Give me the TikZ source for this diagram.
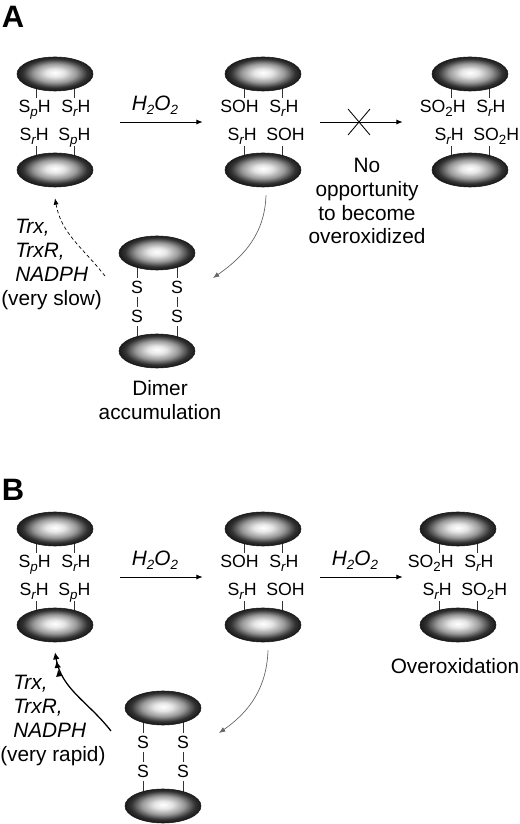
\documentclass[tikz,border=0pt]{standalone}
\usepackage{fontspec}
\setmainfont{Liberation Sans}
\usetikzlibrary{shapes.geometric,shapes.misc,arrows.meta,calc}

\newcommand\lowsub[1]{\raisebox{-0.35ex}{\fontsize{9.5}{10}\selectfont #1}}
\newcommand\SpH{S\lowsub{\itshape p}H}
\newcommand\SrH{S\lowsub{\itshape r}H}
\newcommand\SOH{SOH}
\newcommand\SOtwoH{SO\lowsub{2}H}
\newcommand\peroxide{\textit{H\lowsub{2}O\lowsub{2}}}

\pgfdeclareradialshading{blobshade}{\pgfpoint{0bp}{2bp}}{color(0bp)=(white); color(6bp)=(white!90!black); color(14bp)=(black!40); color(21bp)=(black!80); color(25bp)=(black!90); color(50bp)=(black!90)}

\begin{document}
\begin{tikzpicture}[x=0.025cm,y=0.025cm,>=Latex]
%===DEF. COMPONENTS====
\tikzset{blob/.style={ellipse, draw=black!90, thin, shading=blobshade, minimum width=1.9cm, minimum height=0.85cm, inner sep=0}}
\tikzset{atom/.style={inner sep=0, font=\fontsize{12.6}{14}\selectfont}}
\tikzset{lbl/.style={inner sep=0, font=\fontsize{14.8}{17}\selectfont}}
\tikzset{panel/.style={inner sep=0, font=\fontsize{22}{24}\selectfont\bfseries}}
\tikzset{stem/.style={black!80, line width=0.5pt}}
\tikzset{rxn/.style={-{Latex[length=4.5pt,width=3.6pt]}, line width=0.6pt}}
\tikzset{feed/.style={-{Latex[length=4.5pt,width=3.6pt]}, black!60, line width=0.5pt}}
\tikzset{slow/.style={-{Latex[length=4.5pt,width=3.6pt]}, dash pattern=on 2.5pt off 1.8pt, line width=0.5pt}}
\tikzset{fast/.style={-{Latex[length=5pt,width=4.8pt,sep=1.2pt] Latex[length=5pt,width=4.8pt,sep=1.2pt] Latex[length=5pt,width=4.8pt]}, line width=0.9pt}}

 \def\pair(#1,#2,#3,#4,#5,#6,#7){
 \begin{scope}[shift={(#1,#2)}]
 \node[inner sep=0, minimum width=1.9cm, minimum height=2.4cm] (#3) at (0,0) {};
 \draw[stem] (-19,38) -- (-19,24); \draw[stem] (19,38) -- (19,24);
 \draw[stem] (-19,-38) -- (-19,-24); \draw[stem] (19,-38) -- (19,-24);
 \node[blob] (#3t) at (0,48) {};
 \node[blob] (#3b) at (0,-48) {};
 \node[atom, anchor=base east] (#3tl) at (-4,9) {#4};
 \node[atom, anchor=base west] (#3tr) at (6,9) {#5};
 \node[atom, anchor=base east] (#3bl) at (-6,-19) {#6};
 \node[atom, anchor=base west] (#3br) at (3,-19) {#7};
 \end{scope}
}

 \def\dimer(#1,#2,#3){
 \begin{scope}[shift={(#1,#2)}]
 \node[atom, inner sep=2.4pt] (#3s1) at (-20,14.5) {S};
 \node[atom, inner sep=2.4pt] (#3s2) at (-20,-14.5) {S};
 \node[atom, inner sep=2.4pt] (#3s3) at (20,14.5) {S};
 \node[atom, inner sep=2.4pt] (#3s4) at (20,-14.5) {S};
 \draw[stem] (-20,40) -- (#3s1) -- (#3s2) -- (-20,-40);
 \draw[stem] (20,40) -- (#3s3) -- (#3s4) -- (20,-40);
 \node[blob] (#3t) at (0,49) {};
 \node[blob] (#3b) at (0,-49) {};
 \coordinate (#3in) at (56,24);
 \coordinate (#3out) at (-52,26);
 \end{scope}
}
\path[use as bounding box] (0,0) rectangle (520,824);
%===panel A===
\node[panel] (lblA) at (13,807) {A};
\pair(55,702,a1,\SpH,\SrH,\SrH,\SpH)
\pair(263,702,a2,\SOH,\SrH,\SrH,\SOH)
\pair(470,702,a3,\SOtwoH,\SrH,\SrH,\SOtwoH)
\dimer(157,522,dA)
\draw[rxn] ([xshift=0.675cm]a1.east) -- ([xshift=-0.55cm]a2.west)
 node[lbl, pos=0.42, above=0.18cm] (oxA) {\peroxide};
\draw[rxn] ([xshift=0.475cm]a2.east) -- ([xshift=-0.725cm]a3.west)
 node[cross out, draw, line width=0.6pt, inner sep=0, minimum width=0.525cm, minimum height=0.625cm, pos=0.47] (blockA) {};
\node[lbl, align=center] (noop) at (367,623) {No\\opportunity\\to become\\overoxidized};
\node[lbl, align=center] (dimlbl) at (160,424) {Dimer\\accumulation};
\draw[feed] ([shift={(0.075cm,-0.2cm)}]a2b.south) to[out=-92,in=35] (dAin);
\draw[slow] (dAout) to[out=128,in=-80] ([yshift=-0.275cm]a1b.south);
\node[lbl, anchor=west, align=left] (cofA) at (15,559.5)
 {\textit{Trx,}\\\textit{TrxR,}\\\textit{NADPH}\\\hspace*{-0.35cm}(very slow)};
%===panel B===
\node[panel] (lblB) at (13,334) {B};
\pair(55,247,b1,\SpH,\SrH,\SrH,\SpH)
\pair(263,247,b2,\SOH,\SrH,\SrH,\SOH)
\pair(458,247,b3,\SOtwoH,\SrH,\SrH,\SOtwoH)
\dimer(163,67,dB)
\draw[rxn] ([xshift=0.675cm]b1.east) -- ([xshift=-0.55cm]b2.west)
 node[lbl, pos=0.42, above=0.18cm] (oxB1) {\peroxide};
\draw[rxn] ([xshift=0.475cm]b2.east) -- ([xshift=-0.425cm]b3.west)
 node[lbl, pos=0.42, above=0.18cm] (oxB2) {\peroxide};
\node[lbl] (overox) at (455,158) {Overoxidation};
\draw[feed] ([shift={(0.125cm,-0.2cm)}]b2b.south) to[out=-92,in=35] (dBin);
\draw[fast] (dBout) to[out=128,in=-80] ([yshift=-0.25cm]b1b.south);
\node[lbl, anchor=west, align=left] (cofB) at (13,103.5)
 {\textit{Trx,}\\\textit{TrxR,}\\\textit{NADPH}\\\hspace*{-0.325cm}(very rapid)};
\end{tikzpicture}
\end{document}
